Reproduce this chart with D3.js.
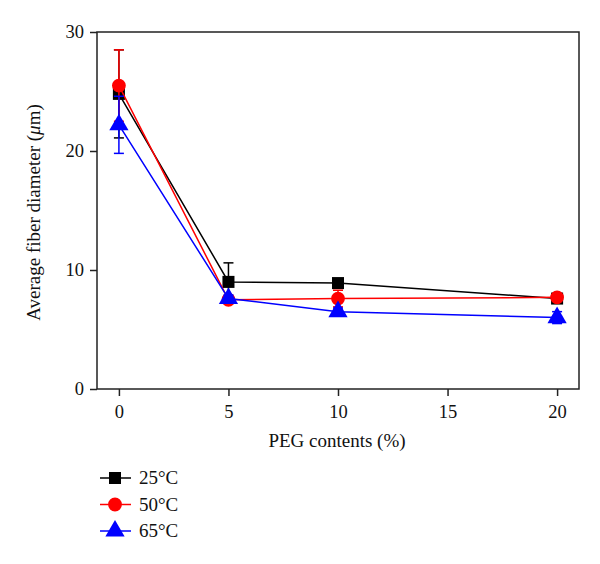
<!DOCTYPE html>
<html><head><meta charset="utf-8">
<script src="https://cdn.jsdelivr.net/npm/d3@7"></script>
<style>body{margin:0;background:#fff}svg{display:block}text{font-family:"Liberation Serif","DejaVu Serif",serif;fill:#111}</style>
</head><body><svg id="c" width="600" height="564"></svg>
<script>
const pegContents = [0, 5, 10, 20];
const seriesNames = ["25°C", "50°C", "65°C"];
const values25 = [24.8, 9.0, 8.9, 7.6];
const values50 = [25.5, 7.5, 7.6, 7.7];
const values65 = [22.2, 7.6, 6.5, 6.0];
const err25 = [3.7, 1.6, 0.3, 0.2];
const err50 = [3.0, 0.3, 0.7, 0.2];
const err65 = [2.4, 0.3, 0.3, 0.5];
const xTicks = [0, 5, 10, 15, 20];
const yTicks = [0, 10, 20, 30];

const series = [
  {name: seriesNames[0], v: values25, e: err25, color: "#000000", sym: d3.symbolSquare, size: 145},
  {name: seriesNames[1], v: values50, e: err50, color: "#ff0000", sym: d3.symbolCircle, size: 150},
  {name: seriesNames[2], v: values65, e: err65, color: "#0000ff", sym: d3.symbolTriangle, size: 160}
];

const svg = d3.select("#c");
const L = 97, R = 579, T = 32, B = 389;
const x = d3.scaleLinear().domain([-1, 21]).range([L, R]);
const y = d3.scaleLinear().domain([0, 30]).range([B, T]);

svg.append("rect").attr("x", L).attr("y", T).attr("width", R - L).attr("height", B - T)
  .attr("fill", "none").attr("stroke", "#222").attr("stroke-width", 1.5);

const xAxis = svg.append("g").attr("transform", `translate(0,${B})`)
  .call(d3.axisBottom(x).tickValues(xTicks).tickSize(7).tickPadding(9).tickFormat(d3.format("d")));
const yAxis = svg.append("g").attr("transform", `translate(${L},0)`)
  .call(d3.axisLeft(y).tickValues(yTicks).tickSize(7).tickPadding(6).tickFormat(d3.format("d")));
[xAxis, yAxis].forEach(a => {
  a.select(".domain").remove();
  a.selectAll("line").attr("stroke", "#222").attr("stroke-width", 1.5);
  a.selectAll("text").attr("font-size", 18.5).attr("fill", "#111")
   .style("font-family", '"Liberation Serif","DejaVu Serif",serif');
});

svg.append("text").attr("x", (L + R) / 2 - 1).attr("y", 447).attr("text-anchor", "middle")
  .attr("font-size", 19).text("PEG contents (%)");
const yt = svg.append("text").attr("transform", `translate(40,${(T + B) / 2 + 2}) rotate(-90)`)
  .attr("text-anchor", "middle").attr("font-size", 19);
yt.append("tspan").text("Average fiber diameter (");
yt.append("tspan").attr("font-style", "italic").text("μ");
yt.append("tspan").text("m)");

const line = d3.line().x((d, i) => x(pegContents[i])).y(d => y(d));
series.forEach(s => {
  const g = svg.append("g");
  g.append("path").attr("d", line(s.v)).attr("fill", "none").attr("stroke", s.color).attr("stroke-width", 1.5);
  s.v.forEach((v, i) => {
    const cx = x(pegContents[i]);
    g.append("line").attr("x1", cx).attr("x2", cx).attr("y1", y(v - s.e[i])).attr("y2", y(v + s.e[i]))
      .attr("stroke", s.color).attr("stroke-width", 1.5);
    [v - s.e[i], v + s.e[i]].forEach(ev => {
      g.append("line").attr("x1", cx - 5).attr("x2", cx + 5).attr("y1", y(ev)).attr("y2", y(ev))
        .attr("stroke", s.color).attr("stroke-width", 1.5);
    });
  });
  g.selectAll("path.m").data(s.v).enter().append("path").attr("class", "m")
    .attr("d", d3.symbol().type(s.sym).size(s.size))
    .attr("transform", (d, i) => `translate(${x(pegContents[i])},${y(d)})`)
    .attr("fill", s.color);
});

series.forEach((s, i) => {
  const ly = 478 + i * 26.5;
  const g = svg.append("g");
  g.append("line").attr("x1", 100).attr("x2", 131).attr("y1", ly).attr("y2", ly).attr("stroke", s.color).attr("stroke-width", 1.5);
  g.append("path").attr("d", d3.symbol().type(s.sym).size(s.size)).attr("transform", `translate(115,${ly})`).attr("fill", s.color);
  g.append("text").attr("x", 139).attr("y", ly + 6).attr("font-size", 19).text(s.name);
});
</script></body></html>
